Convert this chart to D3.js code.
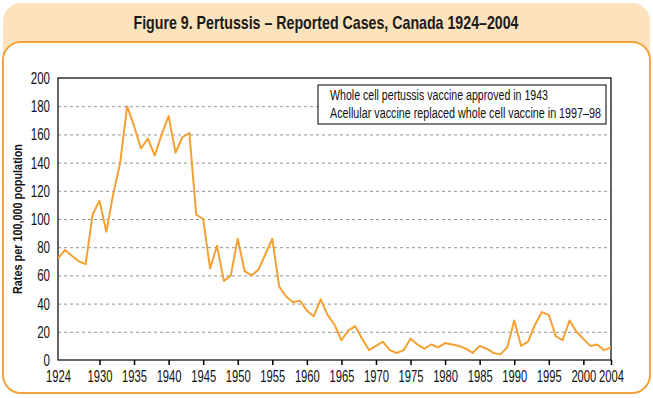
<!DOCTYPE html>
<html>
<head>
<meta charset="utf-8">
<script src="https://cdn.jsdelivr.net/npm/d3@7"></script>
<style>
  body { margin: 0; background: #fff; }
  svg { display: block; font-family: 'Liberation Sans', Arial, sans-serif; }
  .grid line { stroke: #777; stroke-dasharray: 3,3; stroke-width: 0.8; }
  .grid .domain { display: none; }
  .axis text { font-size: 17px; fill: #111; font-family: 'Liberation Sans', Arial, sans-serif; }
</style>
</head>
<body>
<div id="chart"></div>
<script>
var width = 653;
var height = 398;
var margin = { top: 78, right: 42, bottom: 38, left: 58 };
var graphWidth = width - margin.left - margin.right;
var graphHeight = height - margin.top - margin.bottom;

// data
var years = d3.range(1924, 2005);
var rates = [
  72, 78, 74, 70, 68, 103, 113, 91, 118, 140,
  180, 166, 150, 157, 145, 160, 173, 147, 158, 161,
  103, 100, 65, 81, 56, 60, 86, 63, 60, 64,
  75, 86, 52, 45, 41, 42, 35, 31, 43, 32,
  25, 14, 21, 24, 15, 7, 10, 13, 7, 5,
  7, 15, 11, 8, 11, 9, 12, 11, 10, 8,
  5, 10, 8, 5, 4, 9, 28, 10, 13, 25,
  34, 32, 17, 14, 28, 20, 15, 10, 11, 7,
  9
];
var xTicks = [1924, 1930, 1935, 1940, 1945, 1950, 1955, 1960, 1965, 1970, 1975, 1980, 1985, 1990, 1995, 2000, 2004];
var yTicks = [0, 20, 40, 60, 80, 100, 120, 140, 160, 180, 200];
var notes = [
  'Whole cell pertussis vaccine approved in 1943',
  'Acellular vaccine replaced whole cell vaccine in 1997\u201398'
];
var title = 'Figure 9. Pertussis \u2013 Reported Cases, Canada 1924\u20132004';

var data = years.map((y, i) => ({ year: y, value: rates[i] }));

// squeeze text horizontally, the original uses a condensed face
function condense(sel, k) {
  sel.each(function() {
    var w = this.getComputedTextLength();
    d3.select(this)
      .attr('textLength', w * k)
      .attr('lengthAdjust', 'spacingAndGlyphs');
  });
}

var svg = d3
  .select('#chart')
  .append('svg')
  .attr('width', width)
  .attr('height', height);

// panel background
svg.append('rect')
  .attr('x', 3).attr('y', 3)
  .attr('width', 647).attr('height', 70)
  .attr('rx', 18)
  .attr('fill', '#fde3bd');
svg.append('rect')
  .attr('x', 3).attr('y', 42)
  .attr('width', 647).attr('height', 351)
  .attr('rx', 18)
  .attr('fill', '#fff')
  .attr('stroke', '#f0a43c')
  .attr('stroke-width', 2);

svg.append('text')
  .attr('x', 326)
  .attr('y', 29)
  .attr('text-anchor', 'middle')
  .attr('font-size', 19)
  .attr('font-weight', 'bold')
  .attr('fill', '#1a1a1a')
  .text(title)
  .attr('textLength', 385)
  .attr('lengthAdjust', 'spacingAndGlyphs');

var graph = svg.append('g')
  .attr('transform', 'translate(' + margin.left + ',' + margin.top + ')');

var x = d3.scaleLinear().domain([1924, 2004]).range([0, graphWidth]);
var y = d3.scaleLinear().domain([0, 200]).range([graphHeight, 0]);

// gridlines
graph.append('g')
  .attr('class', 'grid')
  .call(d3.axisLeft(y).tickValues(yTicks.slice(1, -1)).tickSize(-graphWidth).tickFormat(''));

// frame
graph.append('rect')
  .attr('width', graphWidth)
  .attr('height', graphHeight)
  .attr('fill', 'none')
  .attr('stroke', '#000')
  .attr('stroke-width', 1.2);

var xAxis = graph.append('g')
  .attr('class', 'axis')
  .attr('transform', 'translate(0,' + graphHeight + ')')
  .call(d3.axisBottom(x).tickValues(xTicks).tickFormat(d3.format('d')).tickSize(5).tickPadding(5));
xAxis.select('.domain').remove();
xAxis.selectAll('line').attr('stroke', '#000').attr('stroke-width', 1.5);
xAxis.selectAll('.tick').filter(d => d === 1924).select('line').remove();
condense(xAxis.selectAll('text'), 0.66);

var yAxis = graph.append('g')
  .attr('class', 'axis')
  .call(d3.axisLeft(y).tickValues(yTicks).tickSize(0).tickPadding(8));
yAxis.select('.domain').remove();
condense(yAxis.selectAll('text'), 0.68);

svg.append('text')
  .attr('transform', 'translate(22,' + (margin.top + graphHeight / 2) + ') rotate(-90)')
  .attr('text-anchor', 'middle')
  .attr('font-size', 13)
  .attr('font-weight', 'bold')
  .attr('fill', '#111')
  .text('Rates per 100,000 population')
  .attr('textLength', 150)
  .attr('lengthAdjust', 'spacingAndGlyphs');

// the series
var line = d3.line().x(d => x(d.year)).y(d => y(d.value));
graph.append('path')
  .datum(data)
  .attr('fill', 'none')
  .attr('stroke', '#f4a134')
  .attr('stroke-width', 2)
  .attr('stroke-linejoin', 'round')
  .attr('d', line);

// annotation box
var note = graph.append('g').attr('transform', 'translate(260,7)');
note.append('rect')
  .attr('width', 288)
  .attr('height', 39)
  .attr('fill', '#fff')
  .attr('stroke', '#000')
  .attr('stroke-width', 1);
note.selectAll('text')
  .data(notes)
  .enter()
  .append('text')
  .attr('x', 12)
  .attr('y', (d, i) => 15 + i * 18)
  .attr('font-size', 14)
  .attr('fill', '#111')
  .text(d => d)
  .attr('textLength', (d, i) => [218, 271][i])
  .attr('lengthAdjust', 'spacingAndGlyphs');
</script>
</body>
</html>
